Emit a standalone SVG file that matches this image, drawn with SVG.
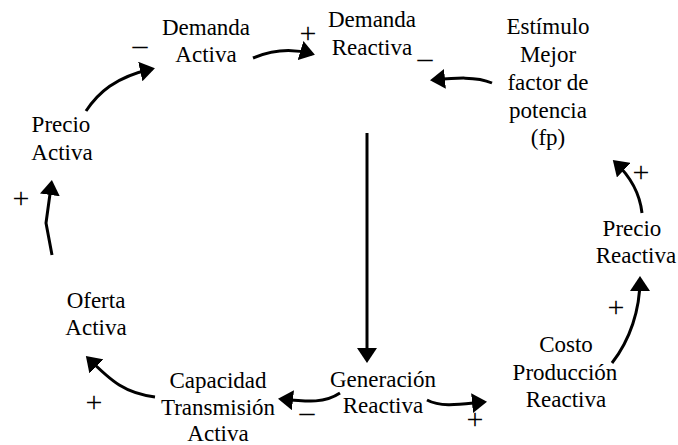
<svg xmlns="http://www.w3.org/2000/svg" width="678" height="445" viewBox="0 0 678 445">
<style>
text{font-family:'Liberation Serif','Times New Roman',serif;fill:#000;text-anchor:middle}
.t{font-size:23px}
.s{font-size:30px}
.c{fill:none;stroke:#000;stroke-width:3;stroke-linejoin:round}
</style>
<defs>
<marker id="ah" markerUnits="userSpaceOnUse" markerWidth="16" markerHeight="20" refX="12" refY="10" orient="auto" viewBox="0 0 16 20">
<path d="M0,0 L15,10 L0,20 z" fill="#000"/>
</marker>
</defs>
<rect width="678" height="445" fill="#fff"/>
<g id="demanda-activa"><text class="t" x="206" y="35">Demanda</text><text class="t" x="206" y="62">Activa</text></g>
<g id="demanda-reactiva"><text class="t" x="372" y="27">Demanda</text><text class="t" x="372" y="55">Reactiva</text></g>
<g id="estimulo"><text class="t" x="548" y="34">Estímulo</text><text class="t" x="548" y="62">Mejor</text><text class="t" x="548" y="90">factor de</text><text class="t" x="548" y="118">potencia</text><text class="t" x="548" y="145">(fp)</text></g>
<g id="precio-activa"><text class="t" x="61" y="132">Precio</text><text class="t" x="62" y="160">Activa</text></g>
<g id="oferta-activa"><text class="t" x="96" y="308">Oferta</text><text class="t" x="96" y="335">Activa</text></g>
<g id="capacidad"><text class="t" x="218" y="388">Capacidad</text><text class="t" x="218" y="415">Transmisión</text><text class="t" x="218" y="441">Activa</text></g>
<g id="generacion"><text class="t" x="383" y="387">Generación</text><text class="t" x="383" y="413">Reactiva</text></g>
<g id="costo"><text class="t" x="566" y="352">Costo</text><text class="t" x="565" y="380">Producción</text><text class="t" x="566" y="407">Reactiva</text></g>
<g id="precio-reactiva"><text class="t" x="632" y="236">Precio</text><text class="t" x="636" y="263">Reactiva</text></g>
<g id="connectors">
<path class="c" marker-end="url(#ah)" d="M86,111 C98,93 115,77 152,69"/>
<path class="c" marker-end="url(#ah)" d="M253,58 C272,50 292,48 312,54"/>
<path class="c" marker-end="url(#ah)" d="M492,83 C476,76 455,78 433,80"/>
<path class="c" marker-end="url(#ah)" d="M367,133 L367,360"/>
<path class="c" marker-end="url(#ah)" d="M642,213 C640,195 632,178 615,162"/>
<path class="c" marker-end="url(#ah)" d="M612,363 C630,340 640,310 640,279"/>
<path class="c" marker-end="url(#ah)" d="M427,400 C442,408 462,404 484,402"/>
<path class="c" marker-end="url(#ah)" d="M340,393 C325,403 310,402 281,399"/>
<path class="c" marker-end="url(#ah)" d="M155,397 C125,393 112,382 88,358"/>
<path class="c" marker-end="url(#ah)" d="M52,255 L46,223 L51.5,183"/>
</g>
<g id="signs">
<text class="s" x="140" y="55">–</text>
<text class="s" x="308" y="43">+</text>
<text class="s" x="425" y="58">_</text>
<text class="s" x="641" y="182">+</text>
<text class="s" x="21" y="208">+</text>
<text class="s" x="94" y="412">+</text>
<text class="s" x="307" y="422">–</text>
<text class="s" x="475" y="429">+</text>
<text class="s" x="616" y="317">+</text>
</g>
</svg>
